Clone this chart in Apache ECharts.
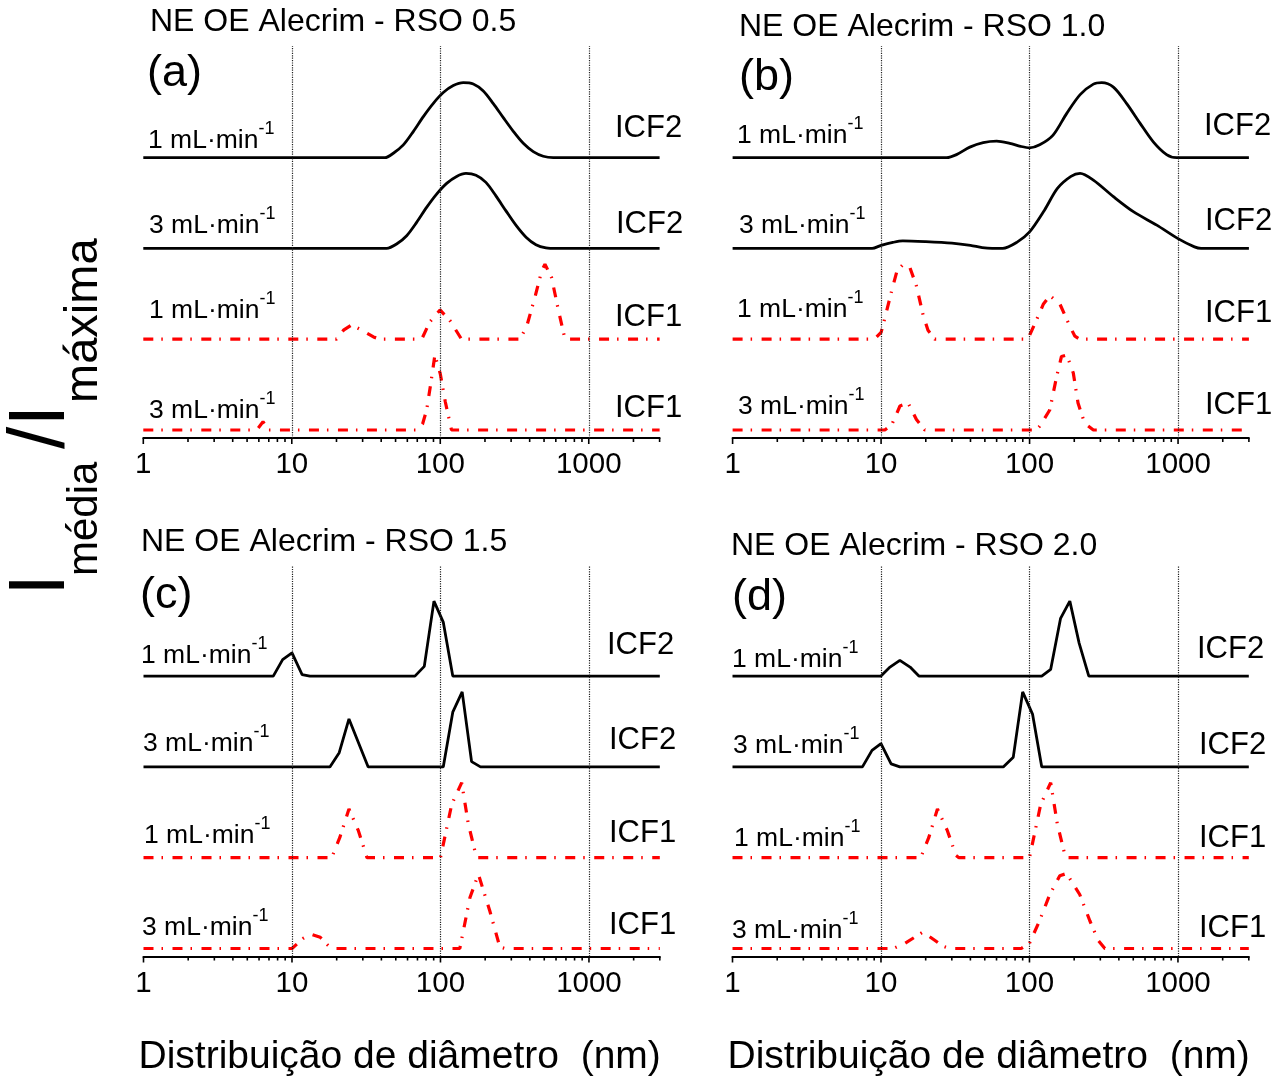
<!DOCTYPE html>
<html>
<head>
<meta charset="utf-8">
<title>NE OE Alecrim - distribuição de diâmetro</title>
<script src="https://cdn.jsdelivr.net/npm/echarts@6/dist/echarts.min.js"></script>
<style>
html, body { margin: 0; padding: 0; background: #fff; }
#chart { width: 1284px; height: 1078px; }
</style>
</head>
<body>
<div id="chart"></div>
<script>
// [diâmetro (nm), I/Imax]
// (a) RSO 0.5
const a_icf2_1 = [[1,0],[38,0],[42.4,0],[48.3,0.058],[56.4,0.169],[65.8,0.347],[76.9,0.547],[89.8,0.724],[104.8,0.867],[122.4,0.96],[142.9,1.0],[166.9,0.982],[194.9,0.889],[227.6,0.72],[265.7,0.533],[310.3,0.351],[362.3,0.191],[423,0.08],[494,0.018],[577,0],[650,0],[3000,0]]
const a_icf2_3 = [[1,0],[39,0],[43.5,0],[50.8,0.058],[59.4,0.169],[69.3,0.347],[80.9,0.547],[94.5,0.724],[110.4,0.867],[128.9,0.96],[149,1.0],[174,0.975],[203,0.88],[237,0.70],[277,0.5],[323,0.31],[378,0.15],[441,0.05],[515,0.008],[608,0],[680,0],[3000,0]]
const a_icf1_1 = [[1,0],[20,0],[22.3,0.12],[25.3,0.19],[29.6,0.12],[35.5,0.03],[39.2,0],[75,0],[85,0.23],[99.6,0.39],[116,0.25],[139,0],[344,0],[382,0.17],[434,0.56],[482,0.91],[507,1.0],[562,0.82],[624,0.39],[692,0],[3000,0]]
const a_icf1_3 = [[1,0],[5.8,0],[6.4,0.11],[7.0,0],[70,0],[76,0.08],[81,0.27],[86,0.6],[92,1.0],[100,0.75],[108,0.38],[119,0],[3000,0]]
// (b) RSO 1.0
const b_icf2_1 = [[1,0],[24,0],[27.6,0],[32.2,0.04],[39.6,0.14],[48.7,0.2],[60,0.22],[73.6,0.19],[87,0.15],[100,0.13],[117,0.17],[144,0.3],[178,0.59],[219,0.84],[269,0.98],[306,1.0],[367,0.94],[451,0.72],[554,0.46],[681,0.21],[837,0.04],[978,0],[1100,0],[3000,0]]
const b_icf2_3 = [[1,0],[7.5,0],[8.7,0],[10,0.04],[12,0.08],[14,0.1],[20,0.09],[30,0.07],[40,0.04],[48,0.01],[56,0],[66,0],[82,0.08],[100,0.22],[126,0.51],[154,0.8],[190,0.96],[219,1.0],[269,0.91],[367,0.69],[500,0.49],[719,0.31],[1000,0.13],[1290,0.02],[1430,0],[1600,0],[3000,0]]
const b_icf1_1 = [[1,0],[9,0],[10,0.09],[10.6,0.28],[11.8,0.65],[12.8,0.91],[14.1,1.0],[15.6,0.96],[17.3,0.71],[19.2,0.32],[20.7,0.12],[23,0],[98,0],[100.5,0.06],[111,0.25],[124,0.47],[137,0.58],[160,0.47],[187,0.17],[202,0.04],[218,0],[3000,0]]
const b_icf1_3 = [[1,0],[10.6,0],[11.8,0.07],[13.4,0.32],[15.2,0.36],[17.3,0.14],[19.7,0],[110,0],[117,0.05],[137,0.27],[152,0.71],[164,0.98],[178,1.0],[197,0.76],[212,0.36],[235,0.09],[269,0],[3000,0]]
// (c) RSO 1.5
const c_icf2_1 = [[1,0],[7.48,0],[8.65,0.22],[10,0.31],[11.7,0.02],[13.2,0],[67.3,0],[77.8,0.13],[90.4,1.0],[104.4,0.72],[121,0],[3000,0]]
const c_icf2_3 = [[1,0],[18,0],[20.8,0.19],[24.2,0.64],[32.6,0],[104.4,0],[121,0.73],[140,1.0],[162,0.07],[186,0],[3000,0]]
const c_icf1_1 = [[1,0],[18.5,0],[21,0.27],[24.2,0.65],[28,0.36],[32,0],[100,0],[119,0.71],[139,1.0],[154,0.45],[175,0],[3000,0]]
const c_icf1_3 = [[1,0],[10,0],[12,0.14],[13.5,0.19],[15.5,0.15],[17.5,0.04],[18.5,0],[135,0],[158,0.68],[180,0.99],[215,0.5],[251,0.02],[272,0],[3000,0]]
// (d) RSO 2.0
const d_icf2_1 = [[1,0],[10,0],[11.5,0.12],[13.4,0.21],[15.7,0.12],[18,0],[121,0],[139,0.09],[162,0.77],[187,1.0],[216,0.44],[251,0],[3000,0]]
const d_icf2_3 = [[1,0],[7.5,0],[8.7,0.22],[10,0.31],[11.7,0.04],[13.4,0],[66.6,0],[77.8,0.13],[90,1.0],[105,0.7],[121,0],[3000,0]]
const d_icf1_1 = [[1,0],[18.5,0],[21,0.27],[24,0.65],[28,0.36],[32,0.03],[33.5,0],[100,0],[119,0.71],[139,1.0],[154,0.45],[175,0],[3000,0]]
const d_icf1_3 = [[1,0],[12.1,0],[14.5,0.07],[19.2,0.22],[23,0.11],[26.2,0.03],[29,0],[88,0],[100,0.07],[117,0.37],[137,0.72],[160,0.97],[178,1.0],[218,0.72],[255,0.37],[290,0.11],[322,0],[3000,0]]

const TICK_LABELS = [1, 10, 100, 1000]
const MINOR_TICKS = [2,3,4,5,6,7,8,9,20,30,40,50,60,70,80,90,200,300,400,500,600,700,800,900,2000,3000]
const GUIDE_LINES = [10, 100, 1000]

const TITLES = ['NE OE Alecrim - RSO 0.5', 'NE OE Alecrim - RSO 1.0', 'NE OE Alecrim - RSO 1.5', 'NE OE Alecrim - RSO 2.0']
const LETTERS = ['(a)', '(b)', '(c)', '(d)']
const FLOW_LABELS = ['1 mL·min', '3 mL·min', '1 mL·min', '3 mL·min'] // top to bottom
const FRACTION_LABELS = ['ICF2', 'ICF2', 'ICF1', 'ICF1']
const X_NAME = 'Distribuição de diâmetro  (nm)'

const FONT = '"Liberation Sans", Arial, Helvetica, sans-serif'
const BASE = 8      // lowest trace above the axis (px)
const STEP = 90.8   // vertical offset between traces (px)
const SCALE = 75    // px for I/Imax = 1
const WIDTH = 516.3

// bottom to top: ICF1 3 mL, ICF1 1 mL, ICF2 3 mL, ICF2 1 mL
const panels = [
  { left: 143.3, top: 46, height: 392, smooth: true, traces: [a_icf1_3, a_icf1_1, a_icf2_3, a_icf2_1],
    title: [150, 21.7], letter: [147, 74],
    flow: [[148, 136.7], [149, 222.5], [149, 307.5], [149, 406.7]],
    frac: [[615, 128.3], [616, 224], [615, 317.5], [615, 408.7]] },
  { left: 732.6, top: 46, height: 392, smooth: true, traces: [b_icf1_3, b_icf1_1, b_icf2_3, b_icf2_1],
    title: [739, 27.5], letter: [739, 78],
    flow: [[737, 132.5], [739, 221.7], [737, 306], [738, 403]],
    frac: [[1204, 126], [1205, 221.7], [1205, 313], [1205, 405]] },
  { left: 143.5, top: 566, height: 390.5, smooth: false, traces: [c_icf1_3, c_icf1_1, c_icf2_3, c_icf2_1],
    title: [141, 542.5], letter: [140, 596],
    flow: [[141, 651.7], [143, 740], [144, 832.5], [142, 924]],
    frac: [[607, 645], [609, 740], [609, 833], [609, 925]] },
  { left: 732.5, top: 566, height: 390.5, smooth: false, traces: [d_icf1_3, d_icf1_1, d_icf2_3, d_icf2_1],
    title: [731, 546], letter: [732, 597.5],
    flow: [[732, 656], [733, 742], [734, 835], [732, 927]],
    frac: [[1197, 649], [1199, 745], [1199, 838], [1199, 928]] }
]

const grids = []
const xAxes = []
const yAxes = []
const series = []
const graphics = []

panels.forEach((p, i) => {
  grids.push({ left: p.left, top: p.top, width: WIDTH, height: p.height })
  xAxes.push({
    type: 'log',
    logBase: 10,
    gridIndex: i,
    min: 1,
    max: 3000,
    axisLine: { show: true, onZero: false, lineStyle: { color: '#000', width: 2 } },
    axisTick: { show: false },
    minorTick: { show: false },
    splitLine: { show: false },
    axisLabel: {
      color: '#000',
      fontSize: 29.5,
      fontFamily: FONT,
      margin: 12,
      formatter: function (v) {
        const r = Math.round(v)
        return TICK_LABELS.indexOf(r) >= 0 ? String(r) : ''
      }
    }
  })
  yAxes.push({ type: 'value', gridIndex: i, min: 0, max: p.height, show: false })

  p.traces.forEach((tr, k) => {
    const red = k < 2
    series.push({
      type: 'line',
      xAxisIndex: i,
      yAxisIndex: i,
      showSymbol: false,
      smooth: !red && p.smooth ? 0.3 : false,
      data: tr.map(d => [d[0], BASE + k * STEP + d[1] * SCALE]),
      lineStyle: red
        ? { color: '#ff0000', width: 3.2, type: [10, 8, 1.5, 9.5] }
        : { color: '#000', width: 2.8 },
      z: 2
    })
  })

  // vertical dotted guides at 10, 100, 1000
  series.push({
    type: 'line',
    xAxisIndex: i,
    yAxisIndex: i,
    data: [],
    z: 4,
    markLine: {
      silent: true,
      symbol: 'none',
      label: { show: false },
      lineStyle: { color: '#222', width: 1.2, type: [1.2, 1.2] },
      data: GUIDE_LINES.map(v => ({ xAxis: v }))
    }
  })

  // log ticks (major + minor), drawn below the axis line
  series.push({
    type: 'custom',
    xAxisIndex: i,
    yAxisIndex: i,
    clip: false,
    z: 5,
    data: TICK_LABELS.map(v => [v, 0, 1]).concat(MINOR_TICKS.map(v => [v, 0, 0])),
    renderItem: function (params, api) {
      const pt = api.coord([api.value(0), 0])
      const len = api.value(2) ? 6 : 4
      return {
        type: 'line',
        shape: { x1: pt[0], y1: pt[1], x2: pt[0], y2: pt[1] + len },
        style: { stroke: '#000', lineWidth: 1.6 }
      }
    }
  })

  graphics.push({
    type: 'text', x: p.title[0], y: p.title[1],
    style: { text: TITLES[i], fontSize: 32, fontFamily: FONT, fill: '#000', align: 'left', verticalAlign: 'middle' }
  })
  graphics.push({
    type: 'text', x: p.letter[0], y: p.letter[1],
    style: { text: LETTERS[i], fontSize: 45, fontFamily: FONT, fill: '#000', align: 'left', verticalAlign: 'middle' }
  })
  FLOW_LABELS.forEach((t, j) => {
    graphics.push({
      type: 'text', x: p.flow[j][0], y: p.flow[j][1] - 4,
      style: {
        text: '{m|' + t + '}{s|-1}',
        fontFamily: FONT, fill: '#000', align: 'left', verticalAlign: 'middle',
        rich: {
          m: { fontSize: 26.5, lineHeight: 26, padding: [7, 0, 0, 0], verticalAlign: 'top', fontFamily: FONT, color: '#000' },
          s: { fontSize: 18, lineHeight: 18, verticalAlign: 'top', fontFamily: FONT, color: '#000' }
        }
      }
    })
  })
  FRACTION_LABELS.forEach((t, j) => {
    graphics.push({
      type: 'text', x: p.frac[j][0], y: p.frac[j][1],
      style: { text: t, fontSize: 31, fontFamily: FONT, fill: '#000', align: 'left', verticalAlign: 'middle' }
    })
  })
})

// x axis names under the bottom panels
;[panels[2], panels[3]].forEach(p => {
  graphics.push({
    type: 'text', x: p.left + WIDTH / 2 - 2, y: 1057,
    style: { text: X_NAME, fontSize: 39, fontFamily: FONT, fill: '#000', align: 'center', verticalAlign: 'middle' }
  })
})

// y label: I média / I máxima, rotated
const yLabel = [
  { text: 'I', size: 80, x: 42, y: 596 },
  { text: 'média', size: 42, x: 85.4, y: 576 },
  { text: '/I', size: 80, x: 42, y: 449 },
  { text: 'máxima', size: 47, x: 83.7, y: 403 }
]
yLabel.forEach(t => {
  graphics.push({
    type: 'text', x: t.x, y: t.y, rotation: Math.PI / 2,
    style: { text: t.text, fontSize: t.size, fontFamily: FONT, fill: '#000', align: 'left', verticalAlign: 'middle' }
  })
})

const chart = echarts.init(document.getElementById('chart'))
chart.setOption({
  animation: false,
  backgroundColor: '#fff',
  grid: grids,
  xAxis: xAxes,
  yAxis: yAxes,
  series: series,
  graphic: graphics
})
</script>
</body>
</html>
